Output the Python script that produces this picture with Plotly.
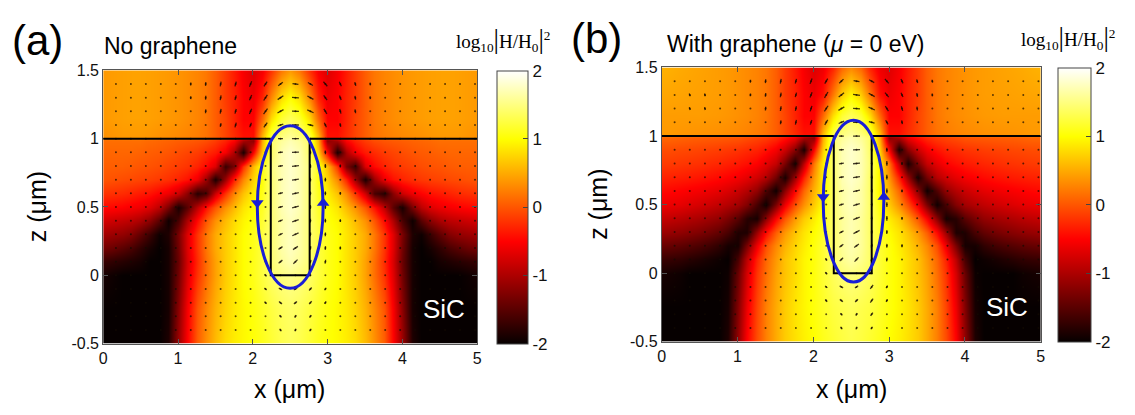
import math
import plotly.graph_objects as go

# ---------------- data ----------------
# sampling grid of the field map  log10|H/H0|^2
heat_x = [0, 0.125, 0.25, 0.375, 0.5, 0.625, 0.75, 0.875, 1.0, 1.125, 1.25, 1.375, 1.5, 1.625,
          1.75, 1.875, 2.0, 2.125, 2.25, 2.375, 2.5, 2.625, 2.75, 2.875, 3.0, 3.125, 3.25, 3.375,
          3.5, 3.625, 3.75, 3.875, 4.0, 4.125, 4.25, 4.375, 4.5, 4.625, 4.75, 4.875, 5.0]
heat_z = [-0.5, -0.25, 0.0, 0.1, 0.2, 0.3, 0.4, 0.5, 0.6, 0.7, 0.8, 0.9, 0.99, 1.01, 1.15, 1.3, 1.5]

# (a) No graphene -- one row per heat_z value
field_a = [
    [-2, -2, -2, -2, -2, -2, -2, -1.85, -1.1, -0.5, 0.05, 0.35, 0.6, 0.8, 0.9, 0.97, 1.03, 1.1, 1.2, 1.3, 1.35,
     1.3, 1.2, 1.1, 1.03, 0.97, 0.9, 0.8, 0.6, 0.35, 0.05, -0.5, -1.1, -1.85, -2, -2, -2, -2, -2, -2, -2],
    [-2, -2, -2, -2, -2, -2, -2, -1.9, -1.2, -0.55, 0.0, 0.3, 0.55, 0.75, 0.88, 0.97, 1.05, 1.15, 1.25, 1.35, 1.4,
     1.35, 1.25, 1.15, 1.05, 0.97, 0.88, 0.75, 0.55, 0.3, 0.0, -0.55, -1.2, -1.9, -2, -2, -2, -2, -2, -2, -2],
    [-1.9, -1.95, -2, -2, -2, -2, -2, -1.9, -1.35, -0.7, -0.2, 0.15, 0.45, 0.7, 0.85, 1.0, 1.1, 1.25, 1.4, 1.5, 1.55,
     1.5, 1.4, 1.25, 1.1, 1.0, 0.85, 0.7, 0.45, 0.15, -0.2, -0.7, -1.35, -1.9, -2, -2, -2, -2, -2, -1.95, -1.9],
    [-1.7, -1.75, -1.8, -1.85, -1.9, -2.0, -2.0, -1.9, -1.4, -0.75, -0.25, 0.15, 0.45, 0.7, 0.85, 1.0, 1.1, 1.25, 1.45, 1.6, 1.7,
     1.6, 1.45, 1.25, 1.1, 1.0, 0.85, 0.7, 0.45, 0.15, -0.25, -0.75, -1.4, -1.9, -2.0, -2.0, -1.9, -1.85, -1.8, -1.75, -1.7],
    [-1.35, -1.4, -1.5, -1.6, -1.75, -1.9, -2.0, -1.9, -1.35, -0.7, -0.2, 0.2, 0.5, 0.7, 0.85, 1.0, 1.1, 1.25, 1.45, 1.65, 1.75,
     1.65, 1.45, 1.25, 1.1, 1.0, 0.85, 0.7, 0.5, 0.2, -0.2, -0.7, -1.35, -1.9, -2.0, -1.9, -1.75, -1.6, -1.5, -1.4, -1.35],
    [-1.05, -1.1, -1.15, -1.25, -1.45, -1.7, -1.95, -1.85, -1.3, -0.7, -0.2, 0.2, 0.5, 0.7, 0.85, 1.0, 1.1, 1.25, 1.45, 1.65, 1.75,
     1.65, 1.45, 1.25, 1.1, 1.0, 0.85, 0.7, 0.5, 0.2, -0.2, -0.7, -1.3, -1.85, -1.95, -1.7, -1.45, -1.25, -1.15, -1.1, -1.05],
    [-0.75, -0.8, -0.85, -0.9, -1.0, -1.2, -1.5, -1.95, -1.6, -1.0, -0.45, 0.0, 0.35, 0.6, 0.8, 0.95, 1.05, 1.2, 1.45, 1.65, 1.75,
     1.65, 1.45, 1.2, 1.05, 0.95, 0.8, 0.6, 0.35, 0.0, -0.45, -1.0, -1.6, -1.95, -1.5, -1.2, -1.0, -0.9, -0.85, -0.8, -0.75],
    [-0.45, -0.47, -0.5, -0.55, -0.6, -0.7, -0.9, -1.3, -1.9, -1.5, -0.9, -0.4, 0.0, 0.35, 0.6, 0.85, 1.0, 1.15, 1.45, 1.7, 1.8,
     1.7, 1.45, 1.15, 1.0, 0.85, 0.6, 0.35, 0.0, -0.4, -0.9, -1.5, -1.9, -1.3, -0.9, -0.7, -0.6, -0.55, -0.5, -0.47, -0.45],
    [-0.2, -0.22, -0.25, -0.3, -0.35, -0.4, -0.5, -0.6, -0.8, -1.2, -1.8, -1.6, -0.8, -0.2, 0.3, 0.65, 0.9, 1.1, 1.45, 1.7, 1.8,
     1.7, 1.45, 1.1, 0.9, 0.65, 0.3, -0.2, -0.8, -1.6, -1.8, -1.2, -0.8, -0.6, -0.5, -0.4, -0.35, -0.3, -0.25, -0.22, -0.2],
    [0.0, -0.02, -0.05, -0.07, -0.1, -0.13, -0.17, -0.22, -0.3, -0.4, -0.6, -1.1, -1.9, -1.1, -0.3, 0.3, 0.75, 1.05, 1.45, 1.7, 1.8,
     1.7, 1.45, 1.05, 0.75, 0.3, -0.3, -1.1, -1.9, -1.1, -0.6, -0.4, -0.3, -0.22, -0.17, -0.13, -0.1, -0.07, -0.05, -0.02, 0.0],
    [0.05, 0.05, 0.05, 0.03, 0.0, -0.02, -0.05, -0.1, -0.15, -0.2, -0.3, -0.45, -0.7, -1.7, -1.3, -0.2, 0.6, 1.1, 1.5, 1.7, 1.8,
     1.7, 1.5, 1.1, 0.6, -0.2, -1.3, -1.7, -0.7, -0.45, -0.3, -0.2, -0.15, -0.1, -0.05, -0.02, 0.0, 0.03, 0.05, 0.05, 0.05],
    [0.1, 0.1, 0.1, 0.1, 0.08, 0.05, 0.03, 0.0, -0.05, -0.1, -0.15, -0.25, -0.35, -0.55, -1.0, -1.9, -0.5, 0.7, 1.4, 1.7, 1.8,
     1.7, 1.4, 0.7, -0.5, -1.9, -1.0, -0.55, -0.35, -0.25, -0.15, -0.1, -0.05, 0.0, 0.03, 0.05, 0.08, 0.1, 0.1, 0.1, 0.1],
    [0.15, 0.15, 0.15, 0.15, 0.15, 0.12, 0.1, 0.08, 0.05, 0.03, 0.0, -0.05, -0.15, -0.3, -0.5, -1.0, -1.2, 0.5, 1.4, 1.6, 1.7,
     1.6, 1.4, 0.5, -1.2, -1.0, -0.5, -0.3, -0.15, -0.05, 0.0, 0.03, 0.05, 0.08, 0.1, 0.12, 0.15, 0.15, 0.15, 0.15, 0.15],
    [0.35, 0.37, 0.4, 0.4, 0.4, 0.38, 0.35, 0.33, 0.3, 0.27, 0.23, 0.17, 0.05, -0.1, -0.25, -0.4, -0.4, 0.6, 1.3, 1.5, 1.6,
     1.5, 1.3, 0.6, -0.4, -0.4, -0.25, -0.1, 0.05, 0.17, 0.23, 0.27, 0.3, 0.33, 0.35, 0.38, 0.4, 0.4, 0.4, 0.37, 0.35],
    [0.4, 0.42, 0.44, 0.45, 0.45, 0.44, 0.42, 0.4, 0.37, 0.33, 0.28, 0.2, 0.05, -0.1, -0.3, -0.5, -0.5, 0.1, 0.8, 1.2, 1.35,
     1.2, 0.8, 0.1, -0.5, -0.5, -0.3, -0.1, 0.05, 0.2, 0.28, 0.33, 0.37, 0.4, 0.42, 0.44, 0.45, 0.45, 0.44, 0.42, 0.4],
    [0.4, 0.42, 0.44, 0.45, 0.45, 0.44, 0.42, 0.4, 0.37, 0.33, 0.28, 0.2, 0.05, -0.15, -0.3, -0.5, -0.6, -0.3, 0.3, 0.8, 1.0,
     0.8, 0.3, -0.3, -0.6, -0.5, -0.3, -0.15, 0.05, 0.2, 0.28, 0.33, 0.37, 0.4, 0.42, 0.44, 0.45, 0.45, 0.44, 0.42, 0.4],
    [0.4, 0.42, 0.44, 0.45, 0.45, 0.44, 0.42, 0.4, 0.37, 0.33, 0.28, 0.2, 0.05, -0.15, -0.35, -0.55, -0.7, -0.55, -0.2, 0.2, 0.4,
     0.2, -0.2, -0.55, -0.7, -0.55, -0.35, -0.15, 0.05, 0.2, 0.28, 0.33, 0.37, 0.4, 0.42, 0.44, 0.45, 0.45, 0.44, 0.42, 0.4],
]

# (b) With graphene (mu = 0 eV)
field_b = [
    [-2, -2, -2, -2, -2, -2, -2, -1.85, -1.15, -0.5, -0.05, 0.25, 0.5, 0.7, 0.82, 0.92, 1.0, 1.1, 1.18, 1.25, 1.3,
     1.25, 1.18, 1.1, 1.0, 0.92, 0.82, 0.7, 0.5, 0.25, -0.05, -0.5, -1.15, -1.85, -2, -2, -2, -2, -2, -2, -2],
    [-2, -2, -2, -2, -2, -2, -2, -1.9, -1.25, -0.6, -0.1, 0.25, 0.5, 0.7, 0.85, 0.95, 1.05, 1.15, 1.25, 1.3, 1.35,
     1.3, 1.25, 1.15, 1.05, 0.95, 0.85, 0.7, 0.5, 0.25, -0.1, -0.6, -1.25, -1.9, -2, -2, -2, -2, -2, -2, -2],
    [-1.9, -1.92, -1.95, -2, -2, -2, -2, -1.95, -1.4, -0.75, -0.2, 0.15, 0.45, 0.65, 0.8, 0.95, 1.05, 1.2, 1.35, 1.45, 1.5,
     1.45, 1.35, 1.2, 1.05, 0.95, 0.8, 0.65, 0.45, 0.15, -0.2, -0.75, -1.4, -1.95, -2, -2, -2, -2, -1.95, -1.92, -1.9],
    [-1.7, -1.72, -1.75, -1.8, -1.85, -1.9, -1.95, -2, -1.6, -0.9, -0.3, 0.1, 0.4, 0.65, 0.8, 0.95, 1.05, 1.2, 1.4, 1.55, 1.65,
     1.55, 1.4, 1.2, 1.05, 0.95, 0.8, 0.65, 0.4, 0.1, -0.3, -0.9, -1.6, -2, -1.95, -1.9, -1.85, -1.8, -1.75, -1.72, -1.7],
    [-1.4, -1.43, -1.47, -1.52, -1.58, -1.65, -1.75, -1.9, -1.9, -1.3, -0.6, -0.05, 0.3, 0.55, 0.75, 0.9, 1.05, 1.2, 1.4, 1.6, 1.7,
     1.6, 1.4, 1.2, 1.05, 0.9, 0.75, 0.55, 0.3, -0.05, -0.6, -1.3, -1.9, -1.9, -1.75, -1.65, -1.58, -1.52, -1.47, -1.43, -1.4],
    [-1.1, -1.13, -1.17, -1.22, -1.28, -1.35, -1.45, -1.6, -1.85, -1.85, -1.1, -0.45, 0.05, 0.4, 0.65, 0.85, 1.0, 1.15, 1.4, 1.6, 1.7,
     1.6, 1.4, 1.15, 1.0, 0.85, 0.65, 0.4, 0.05, -0.45, -1.1, -1.85, -1.85, -1.6, -1.45, -1.35, -1.28, -1.22, -1.17, -1.13, -1.1],
    [-0.85, -0.88, -0.92, -0.97, -1.02, -1.08, -1.15, -1.3, -1.5, -1.8, -1.9, -1.2, -0.5, 0.0, 0.4, 0.7, 0.9, 1.1, 1.4, 1.6, 1.7,
     1.6, 1.4, 1.1, 0.9, 0.7, 0.4, 0.0, -0.5, -1.2, -1.9, -1.8, -1.5, -1.3, -1.15, -1.08, -1.02, -0.97, -0.92, -0.88, -0.85],
    [-0.6, -0.62, -0.65, -0.7, -0.75, -0.8, -0.87, -0.95, -1.05, -1.25, -1.6, -1.95, -1.3, -0.6, -0.05, 0.35, 0.7, 1.0, 1.4, 1.65, 1.75,
     1.65, 1.4, 1.0, 0.7, 0.35, -0.05, -0.6, -1.3, -1.95, -1.6, -1.25, -1.05, -0.95, -0.87, -0.8, -0.75, -0.7, -0.65, -0.62, -0.6],
    [-0.45, -0.47, -0.5, -0.53, -0.56, -0.6, -0.65, -0.72, -0.82, -0.95, -1.15, -1.55, -1.95, -1.2, -0.5, 0.1, 0.55, 0.9, 1.4, 1.65, 1.75,
     1.65, 1.4, 0.9, 0.55, 0.1, -0.5, -1.2, -1.95, -1.55, -1.15, -0.95, -0.82, -0.72, -0.65, -0.6, -0.56, -0.53, -0.5, -0.47, -0.45],
    [-0.3, -0.31, -0.33, -0.35, -0.38, -0.41, -0.45, -0.5, -0.56, -0.65, -0.78, -0.95, -1.35, -1.9, -1.1, -0.3, 0.4, 0.9, 1.4, 1.7, 1.8,
     1.7, 1.4, 0.9, 0.4, -0.3, -1.1, -1.9, -1.35, -0.95, -0.78, -0.65, -0.56, -0.5, -0.45, -0.41, -0.38, -0.35, -0.33, -0.31, -0.3],
    [-0.15, -0.16, -0.18, -0.2, -0.22, -0.25, -0.28, -0.32, -0.36, -0.42, -0.5, -0.65, -0.85, -1.3, -1.9, -0.9, 0.2, 0.9, 1.45, 1.7, 1.8,
     1.7, 1.45, 0.9, 0.2, -0.9, -1.9, -1.3, -0.85, -0.65, -0.5, -0.42, -0.36, -0.32, -0.28, -0.25, -0.22, -0.2, -0.18, -0.16, -0.15],
    [-0.05, -0.05, -0.07, -0.08, -0.1, -0.12, -0.14, -0.17, -0.2, -0.25, -0.3, -0.4, -0.55, -0.8, -1.2, -1.9, -0.5, 0.7, 1.4, 1.7, 1.8,
     1.7, 1.4, 0.7, -0.5, -1.9, -1.2, -0.8, -0.55, -0.4, -0.3, -0.25, -0.2, -0.17, -0.14, -0.12, -0.1, -0.08, -0.07, -0.05, -0.05],
    [0.1, 0.1, 0.08, 0.06, 0.05, 0.04, 0.03, 0.02, 0.0, -0.05, -0.1, -0.15, -0.25, -0.4, -0.6, -1.0, -1.2, 0.5, 1.4, 1.6, 1.7,
     1.6, 1.4, 0.5, -1.2, -1.0, -0.6, -0.4, -0.25, -0.15, -0.1, -0.05, 0.0, 0.02, 0.03, 0.04, 0.05, 0.06, 0.08, 0.1, 0.1],
    [0.4, 0.4, 0.38, 0.37, 0.36, 0.35, 0.34, 0.32, 0.3, 0.27, 0.23, 0.17, 0.05, -0.1, -0.25, -0.4, -0.4, 0.6, 1.3, 1.5, 1.6,
     1.5, 1.3, 0.6, -0.4, -0.4, -0.25, -0.1, 0.05, 0.17, 0.23, 0.27, 0.3, 0.32, 0.34, 0.35, 0.36, 0.37, 0.38, 0.4, 0.4],
    [0.42, 0.42, 0.42, 0.42, 0.42, 0.41, 0.4, 0.38, 0.35, 0.32, 0.27, 0.2, 0.05, -0.1, -0.3, -0.5, -0.5, 0.1, 0.8, 1.2, 1.35,
     1.2, 0.8, 0.1, -0.5, -0.5, -0.3, -0.1, 0.05, 0.2, 0.27, 0.32, 0.35, 0.38, 0.4, 0.41, 0.42, 0.42, 0.42, 0.42, 0.42],
    [0.48, 0.47, 0.46, 0.45, 0.44, 0.43, 0.42, 0.4, 0.36, 0.32, 0.27, 0.2, 0.05, -0.15, -0.3, -0.5, -0.6, -0.4, 0.2, 0.7, 0.95,
     0.7, 0.2, -0.4, -0.6, -0.5, -0.3, -0.15, 0.05, 0.2, 0.27, 0.32, 0.36, 0.4, 0.42, 0.43, 0.44, 0.45, 0.46, 0.47, 0.48],
    [0.55, 0.53, 0.5, 0.48, 0.46, 0.44, 0.42, 0.4, 0.36, 0.32, 0.27, 0.2, 0.05, -0.15, -0.35, -0.55, -0.7, -0.6, -0.3, 0.1, 0.3,
     0.1, -0.3, -0.6, -0.7, -0.55, -0.35, -0.15, 0.05, 0.2, 0.27, 0.32, 0.36, 0.4, 0.42, 0.44, 0.46, 0.48, 0.5, 0.53, 0.55],
]

# quiver sampling grid (every point shows at least a dot)
quiver_x = [0.17, 0.37, 0.57, 0.77, 0.97, 1.17, 1.37, 1.57, 1.77, 1.97, 2.17, 2.37, 2.57,
            2.77, 2.97, 3.17, 3.37, 3.57, 3.77, 3.97, 4.17, 4.37, 4.57, 4.77, 4.97]
quiver_z = [1.4, 1.3, 1.2, 1.1, 1.0, 0.9, 0.8, 0.7, 0.6, 0.5, 0.4, 0.3, 0.2, 0.1, 0.0,
            -0.1, -0.2, -0.3, -0.4]

# visible field arrows: (x, z, direction in degrees, length in px)
arrows_a_air = [
    (1.17, 1.4, 88, 3), (1.37, 1.4, 85, 4), (1.57, 1.4, 80, 5), (1.77, 1.4, 75, 5), (1.97, 1.4, 68, 6),
    (2.17, 1.4, 58, 6), (2.37, 1.4, 40, 6), (2.57, 1.4, 172, 6), (2.77, 1.4, 148, 6), (2.97, 1.4, 130, 6),
    (3.17, 1.4, 115, 5), (3.37, 1.4, 105, 4), (3.57, 1.4, 98, 3),
    (1.17, 1.3, 88, 3), (1.37, 1.3, 85, 4), (1.57, 1.3, 80, 5), (1.77, 1.3, 75, 5), (1.97, 1.3, 68, 6),
    (2.17, 1.3, 58, 7), (2.37, 1.3, 35, 7), (2.57, 1.3, 175, 7), (2.77, 1.3, 150, 7), (2.97, 1.3, 125, 6),
    (3.17, 1.3, 110, 5), (3.37, 1.3, 100, 4), (3.57, 1.3, 95, 3),
    (1.37, 1.2, 85, 4), (1.57, 1.2, 80, 5), (1.77, 1.2, 75, 5), (1.97, 1.2, 68, 6), (2.17, 1.2, 55, 7),
    (2.37, 1.2, 30, 7), (2.57, 1.2, 178, 7), (2.77, 1.2, 155, 7), (2.97, 1.2, 120, 6), (3.17, 1.2, 105, 5),
    (3.37, 1.2, 98, 4),
    (1.57, 1.1, 80, 4), (1.77, 1.1, 75, 5), (1.97, 1.1, 70, 5), (2.17, 1.1, 55, 6), (2.37, 1.1, 20, 6),
    (2.57, 1.1, 180, 7), (2.77, 1.1, 165, 6), (2.97, 1.1, 115, 5), (3.17, 1.1, 100, 4),
]
arrows_a_rod = [
    (2.37, 1.0, 180, 5), (2.57, 1.0, 180, 7),
    (2.37, 0.9, 185, 5), (2.57, 0.9, 182, 7), (2.37, 0.8, 188, 5), (2.57, 0.8, 185, 7),
    (2.37, 0.7, 190, 5), (2.57, 0.7, 188, 7), (2.37, 0.6, 195, 5), (2.57, 0.6, 192, 7),
    (2.37, 0.5, 198, 5), (2.57, 0.5, 196, 7), (2.37, 0.4, 202, 5), (2.57, 0.4, 200, 7),
    (2.37, 0.3, 208, 5), (2.57, 0.3, 205, 7), (2.37, 0.2, 215, 5), (2.57, 0.2, 215, 6),
    (2.37, 0.1, 220, 5), (2.57, 0.1, 225, 6),
]
arrows_a_side = [
    (2.77, 0.9, 95, 4), (2.77, 0.8, 93, 4), (2.77, 0.7, 92, 4), (2.77, 0.6, 90, 4), (2.77, 0.5, 90, 4),
    (2.77, 0.4, 88, 4), (2.77, 0.3, 86, 4), (2.77, 0.2, 80, 4), (2.77, 0.1, 70, 4),
    (2.97, 0.9, 92, 4), (2.97, 0.8, 91, 4), (2.97, 0.7, 90, 4), (2.97, 0.6, 90, 4), (2.97, 0.5, 90, 4),
    (2.97, 0.4, 90, 4), (2.97, 0.3, 88, 4), (2.97, 0.2, 86, 4), (2.97, 0.1, 82, 4),
    (3.17, 0.8, 90, 3), (3.17, 0.6, 90, 3), (3.17, 0.4, 90, 3), (3.17, 0.2, 88, 3),
    (2.17, 0.1, 120, 3), (2.17, 0.0, 130, 3),
]
arrows_a_below = [
    (2.17, -0.1, 135, 3), (2.37, -0.1, 150, 4), (2.57, -0.1, 30, 4), (2.77, -0.1, 50, 4), (2.97, -0.1, 60, 3),
    (2.17, -0.2, 130, 3), (2.37, -0.2, 140, 4), (2.57, -0.2, 40, 4), (2.77, -0.2, 50, 4), (2.97, -0.2, 60, 3),
    (2.37, -0.3, 130, 3), (2.57, -0.3, 60, 3), (2.77, -0.3, 55, 3),
    (2.37, -0.4, 120, 3), (2.57, -0.4, 70, 3), (2.77, -0.4, 60, 3),
]

arrows_b_air = [
    (0.37, 1.3, 110, 3), (0.57, 1.3, 105, 3), (0.37, 1.2, 110, 3), (0.57, 1.2, 105, 3),
    (1.17, 1.4, 88, 3), (1.37, 1.4, 85, 4), (1.57, 1.4, 80, 5), (1.77, 1.4, 75, 5), (1.97, 1.4, 70, 6),
    (2.17, 1.4, 60, 6), (2.37, 1.4, 45, 6), (2.57, 1.4, 170, 6), (2.77, 1.4, 150, 6), (2.97, 1.4, 130, 6),
    (3.17, 1.4, 115, 5), (3.37, 1.4, 105, 4), (3.57, 1.4, 98, 3),
    (1.17, 1.3, 88, 3), (1.37, 1.3, 85, 4), (1.57, 1.3, 80, 5), (1.77, 1.3, 75, 5), (1.97, 1.3, 70, 6),
    (2.17, 1.3, 60, 7), (2.37, 1.3, 40, 7), (2.57, 1.3, 172, 7), (2.77, 1.3, 150, 7), (2.97, 1.3, 128, 6),
    (3.17, 1.3, 112, 5), (3.37, 1.3, 100, 4), (3.57, 1.3, 95, 3),
    (1.37, 1.2, 85, 4), (1.57, 1.2, 82, 5), (1.77, 1.2, 78, 5), (1.97, 1.2, 72, 6), (2.17, 1.2, 58, 7),
    (2.37, 1.2, 32, 7), (2.57, 1.2, 176, 7), (2.77, 1.2, 155, 7), (2.97, 1.2, 122, 6), (3.17, 1.2, 106, 5),
    (3.37, 1.2, 98, 4),
    (1.57, 1.1, 82, 4), (1.77, 1.1, 78, 5), (1.97, 1.1, 72, 5), (2.17, 1.1, 60, 6), (2.37, 1.1, 25, 6),
    (2.57, 1.1, 180, 7), (2.77, 1.1, 165, 6), (2.97, 1.1, 118, 5), (3.17, 1.1, 100, 4),
]
arrows_b_rod = [
    (2.37, 1.0, 180, 5), (2.57, 1.0, 180, 7),
    (2.37, 0.9, 185, 5), (2.57, 0.9, 182, 7), (2.37, 0.8, 188, 5), (2.57, 0.8, 185, 7),
    (2.37, 0.7, 190, 5), (2.57, 0.7, 188, 7), (2.37, 0.6, 195, 5), (2.57, 0.6, 192, 7),
    (2.37, 0.5, 198, 5), (2.57, 0.5, 198, 7), (2.37, 0.4, 204, 5), (2.57, 0.4, 202, 7),
    (2.37, 0.3, 210, 5), (2.57, 0.3, 208, 7), (2.37, 0.2, 218, 5), (2.57, 0.2, 218, 6),
    (2.37, 0.1, 225, 5), (2.57, 0.1, 228, 6),
]
arrows_b_side = [
    (2.77, 0.9, 95, 4), (2.77, 0.8, 93, 4), (2.77, 0.7, 92, 4), (2.77, 0.6, 90, 4), (2.77, 0.5, 90, 4),
    (2.77, 0.4, 88, 4), (2.77, 0.3, 86, 4), (2.77, 0.2, 80, 4), (2.77, 0.1, 70, 4),
    (2.97, 0.9, 92, 4), (2.97, 0.8, 91, 5), (2.97, 0.7, 90, 5), (2.97, 0.6, 90, 5), (2.97, 0.5, 90, 5),
    (2.97, 0.4, 90, 5), (2.97, 0.3, 88, 4), (2.97, 0.2, 86, 4), (2.97, 0.1, 82, 4),
    (3.17, 0.8, 90, 3), (3.17, 0.6, 90, 3), (3.17, 0.4, 90, 3), (3.17, 0.2, 88, 3),
    (2.17, 0.1, 120, 3), (2.17, 0.0, 130, 3),
]
arrows_b_below = [
    (2.17, -0.1, 135, 3), (2.37, -0.1, 150, 4), (2.57, -0.1, 35, 4), (2.77, -0.1, 55, 5), (2.97, -0.1, 60, 3),
    (2.17, -0.2, 130, 3), (2.37, -0.2, 140, 4), (2.57, -0.2, 45, 4), (2.77, -0.2, 55, 5), (2.97, -0.2, 60, 3),
    (2.37, -0.3, 130, 3), (2.57, -0.3, 60, 3), (2.77, -0.3, 55, 4),
    (2.37, -0.4, 120, 3), (2.57, -0.4, 70, 3), (2.77, -0.4, 60, 3),
]

x_ticks = [0, 1, 2, 3, 4, 5]
z_ticks = [-0.5, 0, 0.5, 1, 1.5]
z_tick_text = ["-0.5", "0", "0.5", "1", "1.5"]
cbar_ticks = [-2, -1, 0, 1, 2]

# geometry of the sketch overlays (rod, interface, current loop)
ROD_A = (2.24, 2.76)
ROD_B = (2.27, 2.77)
LOOP_A = dict(cx=2.5, cz=0.5, rx=0.44, rz=0.595)
LOOP_B = dict(cx=2.53, cz=0.525, rx=0.40, rz=0.59)

# ---------------- layout constants ----------------
W, H = 1135, 415
PA = dict(x0=100, x1=477, y0=65, y1=350)   # plot area a (px)
PB = dict(x0=663, x1=1045, y0=62, y1=348)  # plot area b (px)
CBA = (497, 528)
CBB = (1062, 1095)

HOT = [[0.0, "rgb(6,0,0)"], [0.375, "rgb(255,0,0)"],
       [0.75, "rgb(255,255,0)"], [1.0, "rgb(255,255,255)"]]
BLUE = "rgb(25,30,215)"
FONT = "Arial, Liberation Sans, sans-serif"
SERIF = "Times New Roman, Liberation Serif, serif"

fig = go.Figure()


def add_panel(field, arrows, P, CB, xa, ya, rod, loop):
    xref = "x" if xa == "xaxis" else "x2"
    yref = "y" if ya == "yaxis" else "y2"
    fig.add_trace(go.Heatmap(
        x=heat_x, y=heat_z, z=field, zsmooth="best", colorscale=HOT, zmin=-2, zmax=2,
        xaxis=xref, yaxis=yref, hoverinfo="skip",
        colorbar=dict(
            x=CB[0] / W, xanchor="left", xpad=0, ypad=0,
            y=1 - P["y1"] / H, yanchor="bottom", len=(P["y1"] - P["y0"]) / H, lenmode="fraction",
            thickness=CB[1] - CB[0], thicknessmode="pixels",
            outlinewidth=1, outlinecolor="#444",
            tickvals=cbar_ticks, ticktext=[str(v) for v in cbar_ticks],
            ticks="inside", ticklen=5, tickcolor="#444",
            tickfont=dict(family=FONT, size=17, color="#111"),
        ),
    ))
    # dots of the quiver grid
    gx, gz = [], []
    for zz in quiver_z:
        for xx in quiver_x:
            gx.append(xx)
            gz.append(zz)
    fig.add_trace(go.Scatter(x=gx, y=gz, mode="markers", xaxis=xref, yaxis=yref,
                             marker=dict(size=2.0, color="rgba(20,10,0,0.7)"),
                             hoverinfo="skip", showlegend=False))
    # arrow strokes
    ppx = (P["x1"] - P["x0"]) / 5.0
    ppz = (P["y1"] - P["y0"]) / 2.0
    sx, sz = [], []
    for (xx, zz, ang, ln) in arrows:
        dx = 0.5 * ln * math.cos(math.radians(ang)) / ppx
        dz = 0.5 * ln * math.sin(math.radians(ang)) / ppz
        sx += [xx - dx, xx + dx, None]
        sz += [zz - dz, zz + dz, None]
    fig.add_trace(go.Scatter(x=sx, y=sz, mode="lines", xaxis=xref, yaxis=yref,
                             line=dict(color="rgba(20,10,0,0.8)", width=1.3),
                             hoverinfo="skip", showlegend=False))
    # interface and rod outline
    line = dict(color="black", width=2)
    fig.add_shape(type="line", xref=xref, yref=yref, x0=0, x1=rod[0], y0=1, y1=1, line=line)
    fig.add_shape(type="line", xref=xref, yref=yref, x0=rod[1], x1=5, y0=1, y1=1, line=line)
    fig.add_shape(type="path", xref=xref, yref=yref,
                  path=f"M {rod[0]},1 L {rod[0]},0 L {rod[1]},0 L {rod[1]},1", line=line)
    # current loop
    fig.add_shape(type="circle", xref=xref, yref=yref,
                  x0=loop["cx"] - loop["rx"], x1=loop["cx"] + loop["rx"],
                  y0=loop["cz"] - loop["rz"], y1=loop["cz"] + loop["rz"],
                  line=dict(color=BLUE, width=3))
    fig.add_trace(go.Scatter(
        x=[loop["cx"] - loop["rx"], loop["cx"] + loop["rx"]], y=[loop["cz"] + 0.03, loop["cz"] + 0.03],
        mode="markers", xaxis=xref, yaxis=yref,
        marker=dict(symbol=["triangle-down", "triangle-up"], size=11, color=BLUE),
        hoverinfo="skip", showlegend=False))
    fig.add_annotation(x=4.56, y=-0.25, xref=xref, yref=yref, text="SiC", showarrow=False,
                       font=dict(family=FONT, size=26, color="white"))

    axis_common = dict(showgrid=False, zeroline=False, showline=True, linecolor="#555", linewidth=1,
                       mirror="ticks", ticks="inside", ticklen=5, tickcolor="#555",
                       tickfont=dict(family=FONT, size=16, color="#111"))
    fig.update_layout(**{
        xa: dict(domain=[P["x0"] / W, P["x1"] / W], range=[0, 5], tickvals=x_ticks,
                 anchor=yref, **axis_common),
        ya: dict(domain=[1 - P["y1"] / H, 1 - P["y0"] / H], range=[-0.5, 1.5], tickvals=z_ticks,
                 ticktext=z_tick_text, anchor=xref, **axis_common),
    })


add_panel(field_a, arrows_a_air + arrows_a_rod + arrows_a_side + arrows_a_below,
          PA, CBA, "xaxis", "yaxis", ROD_A, LOOP_A)
add_panel(field_b, arrows_b_air + arrows_b_rod + arrows_b_side + arrows_b_below,
          PB, CBB, "xaxis2", "yaxis2", ROD_B, LOOP_B)


def paper_text(text, xpx, ypx, size, family=FONT, xanchor="left", angle=0, color="black"):
    fig.add_annotation(x=xpx / W, y=1 - ypx / H, xref="paper", yref="paper", text=text,
                       showarrow=False, xanchor=xanchor, yanchor="middle", textangle=angle,
                       font=dict(family=family, size=size, color=color))


bar = '<span style="font-size:27px">|</span>'
cb_title = f"log<sub>10</sub>{bar}H/H<sub>0</sub>{bar}<sup>2</sup>"

paper_text("(a)", 6, 34, 42)
paper_text("No graphene", 99, 40, 23)
paper_text(cb_title, 503, 33, 19, family=SERIF, xanchor="center")
paper_text("x (μm)", 288, 397, 25, xanchor="center")
paper_text("z (μm)", 33, 207, 25, xanchor="center", angle=-90)

paper_text("(b)", 570, 32, 42)
paper_text("With graphene (<i>μ</i> = 0 eV)", 666, 38, 23)
paper_text(cb_title, 1073, 31, 19, family=SERIF, xanchor="center")
paper_text("x (μm)", 854, 397, 25, xanchor="center")
paper_text("z (μm)", 598, 205, 25, xanchor="center", angle=-90)

fig.update_layout(width=W, height=H, margin=dict(l=0, r=0, t=0, b=0),
                  paper_bgcolor="white", plot_bgcolor="white", showlegend=False)

fig.write_html("out.html")
